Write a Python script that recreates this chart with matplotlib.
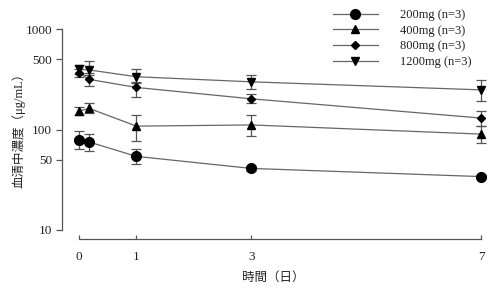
import matplotlib
matplotlib.use("Agg")
import matplotlib.pyplot as plt
import numpy as np

plt.rcParams['font.family'] = ['Liberation Serif', 'Noto Sans CJK JP']

days = [0, 0.18, 1, 3, 7]
labels = ["200mg (n=3)", "400mg (n=3)", "800mg (n=3)", "1200mg (n=3)"]
markers = ["o", "^", "D", "v"]
msizes = [7, 5.5, 4.5, 5.5]

mean_200 = [79, 75, 54, 41, 34]
lo_200 = [64, 61, 45, 39, 32.8]
hi_200 = [97, 91, 64, 43.5, 35.2]

mean_400 = [153, 162, 108, 111, 90]
lo_400 = [140, 147, 77, 87, 74]
hi_400 = [168, 182, 138, 138, 108]

mean_800 = [365, 315, 262, 202, 130]
lo_800 = [330, 268, 210, 182, 108]
hi_800 = [400, 362, 300, 228, 154]

mean_1200 = [398, 391, 335, 298, 248]
lo_1200 = [358, 345, 292, 251, 190]
hi_1200 = [440, 484, 398, 352, 309]

means = [mean_200, mean_400, mean_800, mean_1200]
los = [lo_200, lo_400, lo_800, lo_1200]
his = [hi_200, hi_400, hi_800, hi_1200]

yticks = [10, 50, 100, 500, 1000]
xticks = [0, 1, 3, 7]

fig = plt.figure(figsize=(5.02, 2.88), dpi=100)
ax = fig.add_axes([62/502, 1-239/288, (487-62)/502, (239-29)/288])

handles = []
for m, lo, hi, mk, ms, lab in zip(means, los, his, markers, msizes, labels):
    m = np.array(m, float)
    yerr = [m - np.array(lo), np.array(hi) - m]
    ax.errorbar(days, m, yerr=yerr, fmt='none', ecolor='#555555', elinewidth=0.9,
                capsize=3.5, capthick=0.9, zorder=2)
    h, = ax.plot(days, m, '-', color='#666666', lw=0.9, marker=mk, ms=ms,
                 mfc='black', mec='black', zorder=3, label=lab)
    handles.append(h)

ax.set_yscale('log')
ax.set_ylim(10**(1 - 9/100.5), 1000)
ax.set_xlim(-17/57.4, 7 + 6/57.4)
ax.set_yticks(yticks)
ax.set_yticklabels([str(t) for t in yticks])
ax.yaxis.set_minor_locator(matplotlib.ticker.NullLocator())
ax.set_xticks(xticks)
ax.set_xticklabels([str(t) for t in xticks])

for s in ['top', 'right']:
    ax.spines[s].set_visible(False)
ax.spines['left'].set_bounds(10, 1000)
ax.spines['bottom'].set_bounds(0, 7)
for s in ['left', 'bottom']:
    ax.spines[s].set_color('#555555')
    ax.spines[s].set_linewidth(0.9)

ax.tick_params(axis='y', direction='out', length=4, width=0.9, color='#555555',
               labelsize=9.5, pad=3, labelcolor='#222222')
ax.tick_params(axis='x', direction='in', length=3, width=0.9, color='#555555',
               labelsize=9.5, pad=9, labelcolor='#222222')

ax.set_ylabel('血清中濃度（μg/mL）', fontsize=9, color='#222222')
ax.yaxis.set_label_coords(-0.085, 0.53)
ax.set_xlabel('時間（日）', fontsize=9, color='#222222')
ax.xaxis.set_label_coords(0.496, -0.158)

fig.legend(handles=handles, labels=labels, loc='upper left',
           bbox_to_anchor=(333/502, 1 - 9/288), frameon=False, fontsize=9,
           handlelength=3.6, handletextpad=1.8, labelspacing=0.3,
           borderpad=0, borderaxespad=0, numpoints=1, labelcolor='#222222')

fig.savefig('out.png', dpi=100)
